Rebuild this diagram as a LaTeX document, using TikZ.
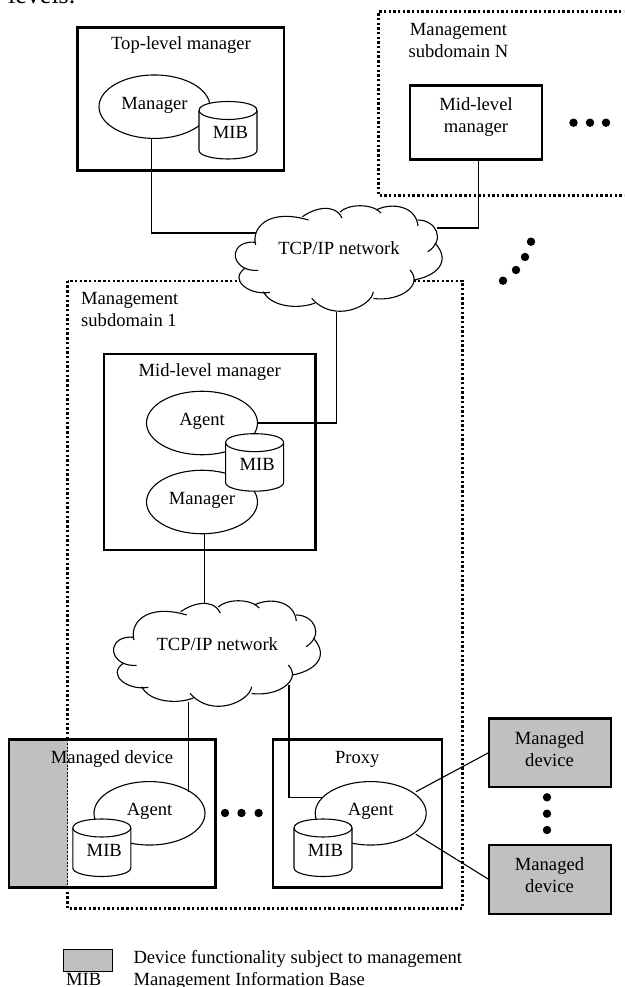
\documentclass[tikz,border=0pt]{standalone}
\usepackage{fontspec}
\setmainfont{Liberation Serif}
\usetikzlibrary{shapes.geometric}
\definecolor{mgray}{HTML}{C0C0C0}
\tikzset{
  every node/.style={font=\fontsize{18.6}{22}\selectfont, inner sep=0pt},
  conn/.style={draw=black, line width=1.1pt},
  bigbox/.style={draw=black, line width=2.4pt, fill=white, rectangle, inner sep=0pt, outer sep=0pt, anchor=north west},
  graybox/.style={bigbox, fill=mgray},
  dom/.style={draw=black, line width=2.4pt, dash pattern=on 2.4pt off 2.3pt},
  oval/.style={ellipse, draw=black, line width=1.1pt, fill=white, inner sep=0pt, outer sep=0pt, minimum width=111pt, minimum height=63.5pt, text height=12pt, text depth=7pt},
  lbl/.style={text height=12pt, text depth=4pt},
  mldot/.style={circle, fill=black, minimum size=8.4pt, inner sep=0pt},
  cyl/.style={draw=black, line width=1.1pt, fill=white, line join=round}
}
\newcommand{\mibcyl}[3]{% name, left x, top y
  \begin{scope}[shift={(#2,#3)}]
    \path[cyl] (0,9) .. controls (0,3) and (14,0) .. (29,0) .. controls (44,0) and (58,3) .. (58,9)
      -- (58,49) .. controls (58,54) and (44,57.5) .. (29,57.5) .. controls (14,57.5) and (0,54) .. (0,49) -- cycle;
    \draw[line width=1.1pt] (0,9) .. controls (0,14) and (14,18) .. (29,18) .. controls (44,18) and (58,14) .. (58,9);
    \node[lbl] (#1) at (31.5,33) {MIB};
  \end{scope}
}
\newcommand{\lobes}{
  (255.7,245) .. controls (251,228) and (268,208) .. (308.4,220)
  (302.4,216.7) .. controls (313,209) and (334,202) .. (342,218)
  (340,212) .. controls (348,204) and (372,203) .. (381,213)
  (376,210) .. controls (392,202) and (416,206) .. (418,226)
  (417.8,220) .. controls (436,220) and (446,240) .. (427.8,251.7)
  (435,243) .. controls (452,262) and (436,276) .. (414,280)
  (410,270) .. controls (424,285) and (400,302) .. (373.3,298.5)
  (373.3,291.7) .. controls (372,306) and (334,324) .. (311.7,298.3)
  (315,303) .. controls (300,309) and (272,308) .. (263.3,291.7)
  (270,292.3) .. controls (250,296) and (228,280) .. (245,268.3)
  (258.3,270.3) .. controls (238,272) and (228,254) .. (241,245) .. controls (244,243) and (250,241.5) .. (255,242.3)
}
\newcommand{\cloudbody}{
  \fill[white] (256,240) -- (308,220) -- (342,216) -- (381,212) -- (418,224) -- (430,250) -- (414,278) -- (373,296) -- (312,300) -- (263,294) -- (245,270) -- cycle;
  \fill[white] \lobes;
  \draw[line width=1.1pt] \lobes;
}
\begin{document}
\begin{tikzpicture}[x=1pt,y=-1pt]
\useasboundingbox (0,0) rectangle (624,987);
\clip (0,0) rectangle (624,987);
\node[anchor=base west, font=\fontsize{26}{28}\selectfont] (levels) at (8,3.5) {levels.};

% top right subdomain
\draw[dom] (640,11.5) -- (378.5,11.5) -- (378.5,195.5) -- (640,195.5);
\node[align=center] (domN) at (458.5,41) {Management\\subdomain N};

% subdomain 1
\draw[dom] (67.6,280.7) rectangle (462.4,908.3);
\node[align=left, anchor=west] (dom1) at (81,309.5) {Management\\subdomain 1};

% top-level manager
\node[bigbox, minimum width=206.5pt, minimum height=143pt] (top) at (77.6,27.7) {};
\node[lbl] (toplbl) at (181,46) {Top-level manager};
\node[oval] (mgrT) at (154.5,106.7) {Manager};
\mibcyl{mibT}{199}{101.5}

% mid-level N
\node[bigbox, minimum width=132pt, minimum height=74pt] (midN) at (410,85.5) {};
\node[align=center] (midNlbl) at (476,117) {Mid-level\\manager};

\node[mldot] (n1) at (573.5,122.7) {};
\node[mldot] (n2) at (590,122.7) {};
\node[mldot] (n3) at (606,122.7) {};

\node[mldot] (d1) at (531,241.7) {};
\node[mldot] (d2) at (525,257) {};
\node[mldot] (d3) at (516,270) {};
\node[mldot] (d4) at (503,280.7) {};

% mid-level manager
\node[bigbox, minimum width=211.6pt, minimum height=196pt] (mid) at (104,354) {};
\node[lbl] (midlbl) at (209.7,372.3) {Mid-level manager};
\node[oval] (agM) at (202,423) {Agent};
\node[oval] (mgrM) at (202,502) {Manager};
\mibcyl{mibM}{225.6}{433.7}

% managed device
\node[bigbox, minimum width=206.3pt, minimum height=148pt] (dev) at (9,739.3) {};
\fill[mgray] (9,739.3) rectangle (67.6,887.3);
\draw[line width=2.4pt] (dev.north west) rectangle (dev.south east);
\draw[line width=0.9pt, dash pattern=on 2pt off 1.6pt] (67.6,739.3) -- (67.6,887.3);
\node[lbl] (devlbl) at (112,759) {Managed device};

% proxy
\node[bigbox, minimum width=169pt, minimum height=148pt] (proxy) at (273,739.3) {};
\node[lbl] (proxylbl) at (357.3,759) {Proxy};

% connectors (below clouds and ovals)
\coordinate (c1w) at (256,233);
\coordinate (c1e) at (436.5,228);
\coordinate (c1s) at (336.6,312);
\coordinate (c2n) at (204.5,606);
\coordinate (c2a) at (188.6,702);
\coordinate (c2b) at (289,685);
\coordinate (b1) at (151.6,233);
\coordinate (b2) at (478.7,228);
\coordinate (b3) at (336.6,423);
\coordinate (b4) at (289,797.3);

\node[oval] (agD) at (149.5,813.3) {Agent};
\node[oval] (agP) at (370.7,813.3) {Agent};
\draw[conn] ([xshift=-2.9pt]mgrT.south) -- (b1) -- (c1w);
\draw[conn] (midN.south -| b2) -- (b2) -- (c1e);
\draw[conn] (c1s) -- (b3) -- (agM.east);
\draw[conn] ([xshift=2.5pt]mgrM.south) -- (c2n);
\draw[conn] (c2a) -- (188.6,791.5);
\draw[conn] (c2b) -- (b4) -- (321.5,797.3);
\mibcyl{mibD}{72.8}{819}
\mibcyl{mibP}{294}{819}

% clouds
\cloudbody
\node[lbl] (net1) at (339,250.7) {TCP/IP network};
\begin{scope}[shift={(-121.7,395)}]
\cloudbody
\node[lbl] (net2) at (339,251) {TCP/IP network};
\end{scope}

\node[mldot] (e1) at (225,813) {};
\node[mldot] (e2) at (241.5,813) {};
\node[mldot] (e3) at (258.6,813) {};

% managed devices on the right
\node[graybox, minimum width=122.3pt, minimum height=68.7pt] (md1) at (488.7,718.3) {};
\node[align=center] (md1l) at (549.5,749) {Managed\\device};
\node[graybox, minimum width=122.3pt, minimum height=69.3pt] (md2) at (488.7,844.7) {};
\node[align=center] (md2l) at (549.5,875) {Managed\\device};
\draw[conn] (416,791.7) -- (md1.west);
\draw[conn] (416,834.3) -- (md2.west);
\node[mldot] (v1) at (547,797.3) {};
\node[mldot] (v2) at (547,813.7) {};
\node[mldot] (v3) at (547,830) {};

% legend
\node[graybox, line width=1.4pt, minimum width=49pt, minimum height=22pt] (leg) at (63.3,949.3) {};
\node[anchor=base west] (legm) at (66,985.5) {MIB};
\node[anchor=base west] (leg1) at (133.3,963) {Device functionality subject to management};
\node[anchor=base west] (leg2) at (133.3,985.5) {Management Information Base};
\end{tikzpicture}
\end{document}
